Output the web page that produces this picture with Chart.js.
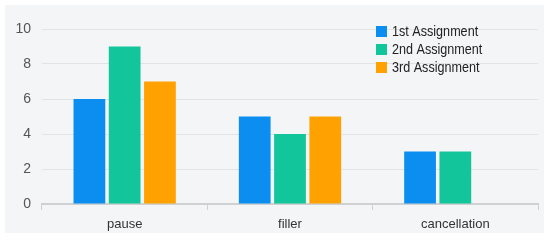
<!DOCTYPE html>
<html lang="en">
<head>
<meta charset="UTF-8">
<title>Assignments</title>
<script src="https://cdn.jsdelivr.net/npm/chart.js"></script>
<style>
  html, body { margin: 0; padding: 0; background: #fff; }
  #panel { position: absolute; left: 5px; top: 5px; width: 539px; height: 228px; background: #f4f5f7; }
</style>
</head>
<body>
<div id="panel"><canvas id="chart" width="539" height="228"></canvas></div>
<script>
// data
const categories = ['pause', 'filler', 'cancellation'];
const seriesNames = ['1st Assignment', '2nd Assignment', '3rd Assignment'];
const first = [6, 5, 3];
const second = [9, 4, 3];
const third = [7, 5, 0];
const yTicks = [0, 2, 4, 6, 8, 10];

const colors = ['#0b8ef0', '#12c59a', '#ffa100'];
const fontFamily = '"Liberation Sans", Arial, sans-serif';

// legend drawn inside the plot, top right, stacked
const boxLegend = {
  id: 'boxLegend',
  afterDraw(chart) {
    const ctx = chart.ctx;
    ctx.save();
    ctx.font = '15px ' + fontFamily;
    ctx.textBaseline = 'middle';
    chart.data.datasets.forEach((ds, i) => {
      const y = 21 + i * 18;
      ctx.fillStyle = ds.backgroundColor;
      ctx.fillRect(371, y, 11, 11);
      ctx.save();
      ctx.translate(387, y + 6);
      ctx.scale(0.84, 1);
      ctx.fillStyle = '#222';
      ctx.fillText(ds.label, 0, 0);
      ctx.restore();
    });
    ctx.restore();
  }
};

new Chart(document.getElementById('chart'), {
  type: 'bar',
  data: {
    labels: categories,
    datasets: [first, second, third].map((vals, i) => ({
      label: seriesNames[i],
      data: vals,
      backgroundColor: colors[i],
      barPercentage: 0.9,
      categoryPercentage: 0.64
    }))
  },
  options: {
    responsive: false,
    animation: false,
    layout: { padding: { top: 24, right: 6, left: 0, bottom: 0 } },
    plugins: { legend: { display: false }, tooltip: { enabled: false } },
    scales: {
      x: {
        grid: { drawOnChartArea: false, drawTicks: true, tickLength: 6, color: '#cfd0d2' },
        border: { color: '#cfd0d2', width: 2 },
        ticks: { color: '#333', font: { size: 13, family: fontFamily }, padding: 7 },
        afterFit(scale) { scale.height = 29; }
      },
      y: {
        min: 0,
        max: 10,
        afterBuildTicks(scale) { scale.ticks = yTicks.map(v => ({ value: v })); },
        grid: { color: '#e2e3e5', drawTicks: false },
        border: { display: false },
        ticks: { color: '#555', font: { size: 14, family: fontFamily }, padding: 11 },
        afterFit(scale) { scale.width = 37; }
      }
    }
  },
  plugins: [boxLegend]
});
</script>
</body>
</html>
